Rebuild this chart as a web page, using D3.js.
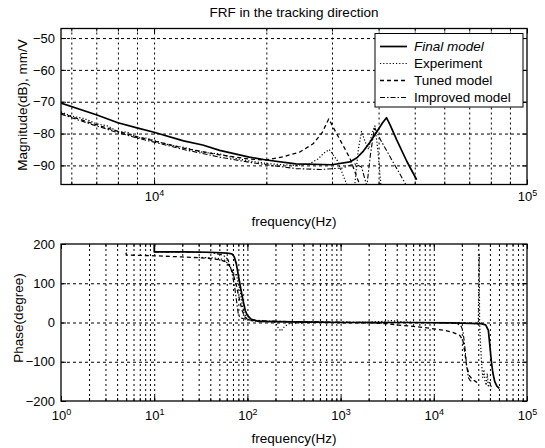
<!DOCTYPE html>
<html><head><meta charset="utf-8">
<script src="https://cdn.jsdelivr.net/npm/d3@7"></script>
<style>
body{margin:0;background:#fff;}
text{font-family:"Liberation Sans",Arial,sans-serif;fill:#000;}
</style></head><body>
<svg id="c" width="545" height="448"></svg>
<script>
// ---------- DATA ----------
const seriesNames = ["Final model", "Experiment", "Tuned model", "Improved model"];

// Magnitude (top) : frequency Hz / dB
const finalMagF = [5630, 7000, 8000, 9000, 10000, 12000, 13500, 15000, 18000, 20000, 24000, 30000, 33500, 35000, 36300, 38000, 39500, 41000, 42000, 43000, 44700, 47600, 50600];
const finalMagV = [-70.4, -74.1, -76.6, -78.2, -79.6, -82.3, -83.6, -85.3, -87.4, -88.3, -89.5, -89.8, -88.9, -87.6, -85.7, -82.6, -79.6, -76.6, -75.0, -77.4, -81.9, -88.7, -94.5];

const expMagF = [5630, 6000, 6500, 7000, 7500, 8000, 8500, 9000, 9500, 10000, 11000, 12000, 13500, 15000, 16500, 18000, 20000, 22000, 24000, 26000, 27500, 28500, 29500, 31000, 33000, 34500, 35300, 36000, 36800, 37600, 38300, 39100, 39800, 40600];
const expMagV = [-73.2, -74.5, -75.3, -76.9, -77.6, -79.4, -79.6, -81.3, -81.4, -82.2, -83.6, -84.3, -85.9, -86.4, -87.8, -88.6, -89.4, -89.8, -90.0, -89.6, -88.0, -86.2, -85.0, -88.5, -96.5, -96.5, -85.0, -79.3, -82.5, -85.0, -80.5, -77.6, -85.0, -96.5];

const tunedMagF = [5630, 7000, 8000, 9000, 10000, 12000, 15000, 18000, 20000, 22200, 24600, 26700, 28200, 29400, 31500, 33500, 35700];
const tunedMagV = [-73.6, -77.2, -79.3, -81.0, -82.3, -84.6, -86.7, -88.0, -88.3, -87.3, -85.8, -83.2, -79.8, -75.4, -81.9, -87.7, -96.5];

const improvedMagF = [5630, 7000, 8000, 9000, 10000, 12000, 15000, 18000, 20000, 24000, 28000, 32000, 34500, 36000, 37200, 38000, 39000, 40500, 44000, 47600];
const improvedMagV = [-73.9, -77.6, -79.7, -81.4, -82.7, -85.0, -87.4, -89.0, -89.8, -91.0, -91.3, -90.8, -89.5, -90.5, -96.5, -87.0, -78.0, -82.0, -89.5, -96.5];

// Phase (bottom) : frequency Hz / degree
const finalPhF = [10, 10.01, 20, 40, 60, 68, 72, 76, 80, 85, 90, 95, 100, 110, 130, 200, 500, 1000, 5000, 15000, 25000, 32000, 36000, 38500, 40000, 41500, 43000, 45000, 47500, 50500];
const finalPhV = [199, 180, 180, 179, 177, 175, 168, 150, 120, 85, 55, 30, 18, 8, 3, 2, 1, 0, 0, -1, -2, -3, -6, -20, -60, -100, -128, -150, -162, -168];

const expPhF = [30, 40, 50, 56, 62, 66, 70, 73, 76, 79, 82, 85, 88, 92, 97, 105, 120, 150, 180, 200, 215, 230, 250, 280, 350, 500, 1000, 2000, 3000, 3500, 4000, 5000, 8000, 12000, 18000, 24000, 28000, 30000, 30700, 31000, 31500, 32500, 33500, 34500, 35500, 36500, 37500, 38500, 40000, 42000];
const expPhV = [166, 165, 163, 160, 150, 140, 130, 120, 125, 105, 90, 70, 45, 25, 12, 6, 4, 3, 2, 0, -15, -22, -10, -3, -1, 0, 0, 1, 3, 5, 3, 1, 0, 0, -1, -2, -3, -4, 176, 0, -40, -100, -140, -120, -150, -160, -130, -165, -150, -170];

const tunedPhF = [5, 5.01, 10, 20, 30, 40, 50, 58, 64, 70, 76, 82, 88, 94, 100, 110, 130, 170, 250, 500, 1000, 2000, 3000, 4000, 6000, 8000, 10000, 13000, 16000, 19000, 20500, 21500, 22500, 24000, 26000, 28000, 30000];
const tunedPhV = [178, 172, 170, 167, 165, 163, 160, 155, 145, 125, 95, 60, 30, 14, 8, 5, 4, 3, 2, 1, 0, -1, -3, -6, -10, -13, -16, -20, -25, -33, -45, -75, -110, -135, -145, -150, -155];

const improvedPhF = [10, 20, 40, 55, 62, 68, 73, 77, 80, 84, 90, 100, 120, 160, 220, 400, 1000, 3000, 10000, 17000, 19500, 20500, 21500, 22500, 23500, 24500, 25500];
const improvedPhV = [180, 180, 178, 172, 160, 130, 90, 50, 20, 12, 10, 8, 6, 4, 3, 2, 1, 0, 0, -2, -8, -20, -60, -110, -140, -148, -150];

// Axis ticks
const topYTicks = [-90, -80, -70, -60, -50];
const topXMajor = [1e4, 1e5];
const botYTicks = [-200, -100, 0, 100, 200];
const botXMajor = [1, 10, 100, 1000, 10000, 100000];

// ---------- STYLE ----------
const styles = [
  {w: 1.7, dash: null},
  {w: 1.2, dash: "1.2,2"},
  {w: 1.3, dash: "4,3"},
  {w: 1.1, dash: "5,2,1.5,2"}
];

const svg = d3.select("#c");

function minorLog(lo, hi) {
  const out = [];
  for (let e = Math.floor(Math.log10(lo)); e < Math.ceil(Math.log10(hi)); e++) {
    for (let m = 1; m <= 9; m++) {
      const v = m * Math.pow(10, e);
      if (v >= lo * 1.0001 && v <= hi * 0.9999) out.push(v);
    }
  }
  return out;
}

function supLabels(sel) {
  sel.selectAll(".tick text").each(function(d) {
    const t = d3.select(this);
    t.text("");
    t.append("tspan").text("10");
    t.append("tspan").attr("dy", "-0.55em").attr("font-size", "9px").text(Math.round(Math.log10(d)));
  });
}

function panel(p) {
  const {x, y, x0, x1, y0, y1, yTicks, xMajor, id, xPad} = p;
  const g = svg.append("g");
  const W = x1 - x0, H = y1 - y0;
  const xAll = minorLog(x.domain()[0], x.domain()[1]);
  // grid
  const gx = g.append("g").attr("transform", `translate(0,${y1})`)
    .call(d3.axisBottom(x).tickValues(xAll).tickSize(-H).tickFormat(""));
  gx.select(".domain").remove();
  gx.selectAll("line").attr("stroke", "#000").attr("stroke-width", 1).attr("stroke-dasharray", "2,3");
  const gy = g.append("g").attr("transform", `translate(${x0},0)`)
    .call(d3.axisLeft(y).tickValues(yTicks.filter(v => v > y.domain()[0] && v < y.domain()[1])).tickSize(-W).tickFormat(""));
  gy.select(".domain").remove();
  gy.selectAll("line").attr("stroke", "#000").attr("stroke-width", 1).attr("stroke-dasharray", "3,3");

  // ticks - bottom major with labels
  const bx = g.append("g").attr("transform", `translate(0,${y1})`)
    .call(d3.axisBottom(x).tickValues(xMajor).tickSize(-5).tickPadding(xPad));
  bx.select(".domain").remove();
  bx.selectAll("text").attr("font-size", "13px").attr("font-family", "Liberation Sans, Arial, sans-serif");
  supLabels(bx);
  const bxm = g.append("g").attr("transform", `translate(0,${y1})`)
    .call(d3.axisBottom(x).tickValues(xAll).tickSize(-3).tickFormat(""));
  bxm.select(".domain").remove();
  const tx = g.append("g").attr("transform", `translate(0,${y0})`)
    .call(d3.axisTop(x).tickValues(xMajor).tickSize(-5).tickFormat(""));
  tx.select(".domain").remove();
  const txm = g.append("g").attr("transform", `translate(0,${y0})`)
    .call(d3.axisTop(x).tickValues(xAll).tickSize(-3).tickFormat(""));
  txm.select(".domain").remove();
  // y ticks
  const ly = g.append("g").attr("transform", `translate(${x0},0)`)
    .call(d3.axisLeft(y).tickValues(yTicks).tickSize(-5).tickPadding(6).tickFormat(d3.format("d")));
  ly.select(".domain").remove();
  ly.selectAll("text").attr("font-size", "13px").attr("font-family", "Liberation Sans, Arial, sans-serif");
  const ry = g.append("g").attr("transform", `translate(${x1},0)`)
    .call(d3.axisRight(y).tickValues(yTicks).tickSize(-5).tickFormat(""));
  ry.select(".domain").remove();
  g.selectAll(".tick line").attr("stroke", "#000");

  // clip
  svg.append("clipPath").attr("id", id).append("rect")
    .attr("x", x0).attr("y", y0).attr("width", W).attr("height", H);
  const lines = g.append("g").attr("clip-path", `url(#${id})`);
  p.series.forEach((s, i) => {
    const data = d3.zip(s[0], s[1]);
    lines.append("path")
      .attr("d", d3.line().x(d => x(d[0])).y(d => y(d[1]))(data))
      .attr("fill", "none").attr("stroke", "#000")
      .attr("stroke-width", styles[i].w)
      .attr("stroke-dasharray", styles[i].dash)
      .attr("stroke-linejoin", "round");
  });
  // frame
  g.append("rect").attr("x", x0).attr("y", y0).attr("width", W).attr("height", H)
    .attr("fill", "none").attr("stroke", "#000").attr("stroke-width", 1.3);
  return g;
}

// ---------- TOP PANEL ----------
const T = {x0: 61, x1: 527, y0: 28.5, y1: 184.5};
const xTop = d3.scaleLog().domain([5630, 1e5]).range([T.x0, T.x1]);
const yTop = d3.scaleLinear().domain([-96, -47]).range([T.y1, T.y0]);
panel({...T, x: xTop, y: yTop, yTicks: topYTicks, xMajor: topXMajor, id: "clipTop", xPad: 7,
  series: [[finalMagF, finalMagV], [expMagF, expMagV], [tunedMagF, tunedMagV], [improvedMagF, improvedMagV]]});

// ---------- BOTTOM PANEL ----------
const B = {x0: 61, x1: 527, y0: 244, y1: 401};
const xBot = d3.scaleLog().domain([1, 1e5]).range([B.x0, B.x1]);
const yBot = d3.scaleLinear().domain([-200, 200]).range([B.y1, B.y0]);
panel({...B, x: xBot, y: yBot, yTicks: botYTicks, xMajor: botXMajor, id: "clipBot", xPad: 10,
  series: [[finalPhF, finalPhV], [expPhF, expPhV], [tunedPhF, tunedPhV], [improvedPhF, improvedPhV]]});

// ---------- TEXTS ----------
const cxTop = (T.x0 + T.x1) / 2;
svg.append("text").attr("x", cxTop).attr("y", 17).attr("text-anchor", "middle")
  .attr("font-size", "13.5px").text("FRF in the tracking direction");
svg.append("text").attr("x", cxTop).attr("y", 226).attr("text-anchor", "middle")
  .attr("font-size", "13.5px").text("frequency(Hz)");
svg.append("text").attr("x", cxTop).attr("y", 443).attr("text-anchor", "middle")
  .attr("font-size", "13.5px").text("frequency(Hz)");
svg.append("text").attr("transform", `translate(27,105) rotate(-90)`)
  .attr("text-anchor", "middle").attr("font-size", "13.5px").text("Magnitude(dB), mm/V");
svg.append("text").attr("transform", `translate(23,318) rotate(-90)`)
  .attr("text-anchor", "middle").attr("font-size", "13.5px").text("Phase(degree)");

// ---------- LEGEND ----------
const L = {x: 375, y: 33.5, w: 148, h: 73.5, row: 17};
const lg = svg.append("g");
lg.append("rect").attr("x", L.x).attr("y", L.y).attr("width", L.w).attr("height", L.h)
  .attr("fill", "#fff").attr("stroke", "#000").attr("stroke-width", 1);
seriesNames.forEach((n, i) => {
  const cy = L.y + 13 + i * L.row;
  lg.append("line").attr("x1", L.x + 5).attr("x2", L.x + 32).attr("y1", cy).attr("y2", cy)
    .attr("stroke", "#000").attr("stroke-width", styles[i].w).attr("stroke-dasharray", styles[i].dash);
  lg.append("text").attr("x", L.x + 39).attr("y", cy + 4.5).attr("font-size", "13.5px")
    .attr("font-style", i === 0 ? "italic" : "normal").text(n);
});
</script>
</body></html>
